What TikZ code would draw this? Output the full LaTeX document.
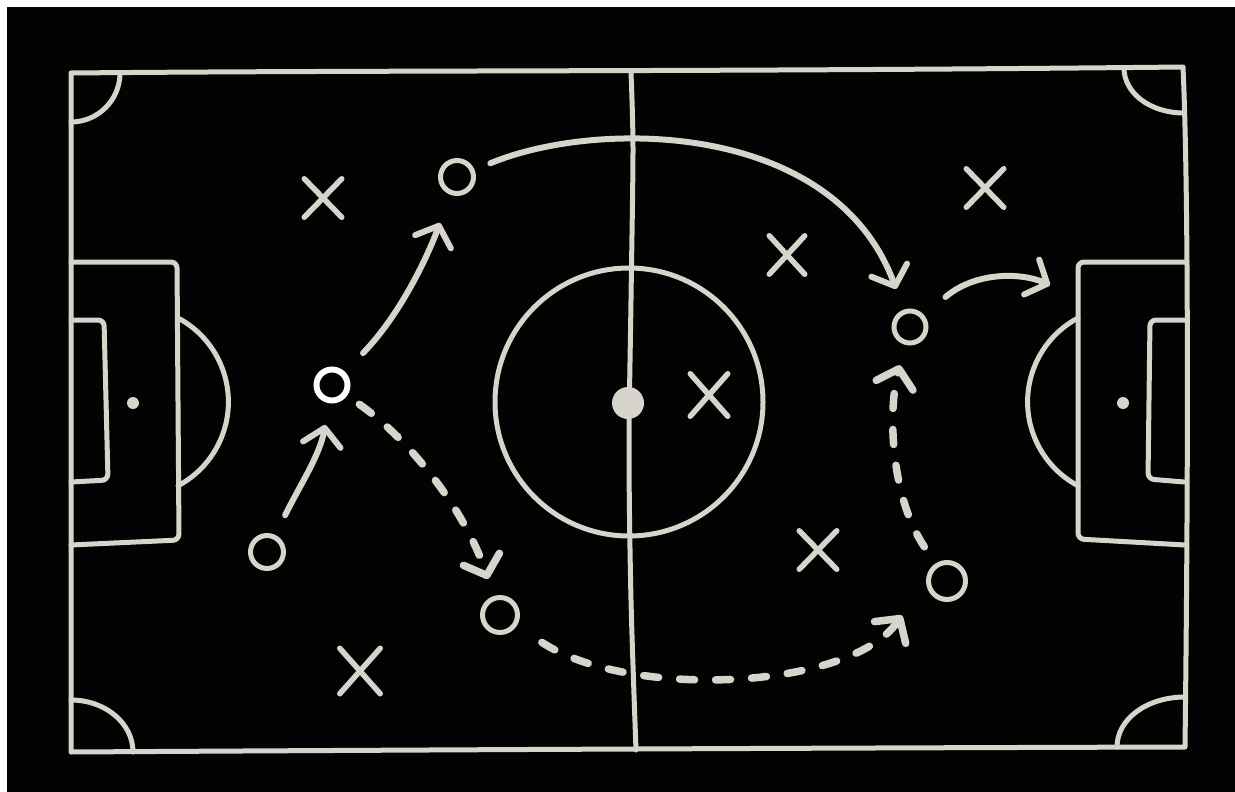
\documentclass[tikz,border=0pt]{standalone}
\usetikzlibrary{arrows.meta,shapes.misc}
\definecolor{chalk}{RGB}{214,212,203}
\definecolor{board}{RGB}{3,3,3}
\begin{document}
\begin{tikzpicture}[x=1pt,y=-1pt,
  fieldline/.style={draw=chalk,line width=5pt,line cap=round,line join=round},
  player/.style={circle,draw=chalk,line width=5pt,inner sep=0pt,minimum size=33pt},
  opponent/.style={cross out,draw=chalk,line width=5.5pt,line cap=round,inner sep=0pt,minimum width=32pt,minimum height=33pt},
  runarrow/.style={draw=chalk,line width=6pt,line cap=round,-{Straight Barb[length=17pt,width=38pt,round]}},
  passarrow/.style={runarrow,line width=7.5pt,dash pattern=on 15pt off 21pt},
]
\useasboundingbox (0,0) rectangle (1235,792);
\fill[white] (0,0) rectangle (1235,792);
\fill[board] (7,7) rectangle (1236,793);

% outline
\draw[fieldline] (71,73) .. controls (400,70) and (700,72) .. (1183,67)
  .. controls (1189,200) and (1188,500) .. (1185,747)
  .. controls (800,748) and (400,750) .. (71,752) -- cycle;
% corners
\draw[fieldline] (120,73) .. controls (120,100) and (98,122) .. (71,122);
\draw[fieldline] (1124,68) .. controls (1124,93) and (1150,113) .. (1184,113);
\draw[fieldline] (71,700) .. controls (105,700) and (133,723) .. (133,752);
\draw[fieldline] (1117,747) .. controls (1117,719) and (1147,697) .. (1185,697);
% halfway line
\draw[fieldline] plot[smooth] coordinates {(631,73) (633,150) (631,300) (629,450) (631,600) (636,750)};
\draw[fieldline] (629,402) circle[radius=134];
\fill[chalk] (628,403) circle[radius=16];
% left box
\draw[fieldline,rounded corners=6pt] (71,262) -- (177,262) -- (179,540) -- (71,545);
\draw[fieldline,rounded corners=6pt] (71,320) -- (104,320) -- (108,480) -- (71,482);
\fill[chalk] (133,403) circle[radius=6];
\draw[fieldline] (178,318) arc[start angle=-62,end angle=62,radius=95];
% right box
\draw[fieldline,rounded corners=6pt] (1187,262) -- (1078,262) -- (1078,539) -- (1185,545);
\draw[fieldline,rounded corners=6pt] (1186,320) -- (1150,320) -- (1148,479) -- (1184,482);
\fill[chalk] (1123,403) circle[radius=6];
\draw[fieldline] (1078,318) arc[start angle=242,end angle=118,radius=95];

% players
\node[player] (p1) at (457,177) {};
\node[player,draw=white,line width=6pt,minimum size=31pt] (p2) at (332,385) {};
\node[player] (p3) at (267,552) {};
\node[player,minimum size=35pt] (p4) at (500,615) {};
\node[player,minimum size=32pt] (p5) at (910,327) {};
\node[player,minimum size=37pt] (p6) at (947,581) {};

% opponents
\node[opponent] (x1) at (323,198) {};
\node[opponent] (x2) at (985,188) {};
\node[opponent,minimum width=30pt] (x3) at (787,255) {};
\node[opponent,minimum height=37pt] (x4) at (709,395) {};
\node[opponent] (x5) at (818,550) {};
\node[opponent,minimum width=35pt,minimum height=40pt] (x6) at (360,671) {};

% runs
\draw[runarrow,shorten <=22pt,shorten >=22pt] (p3) .. controls (300,485) and (320,455) .. (p2);
\draw[runarrow,shorten <=26pt,shorten >=30pt] (p2) .. controls (400,315) and (427,258) .. (p1);
\draw[runarrow,shorten <=17pt,shorten >=22pt] (p1) .. controls (600,118) and (835,122) .. (p5);
\coordinate (goalR) at (1050,285);
\draw[runarrow,shorten <=28pt] (p5) .. controls (975,272) and (1020,272) .. (goalR);
% passes
\draw[passarrow,shorten <=15pt,shorten >=18pt] (p2) .. controls (410,440) and (465,510) .. (p4);
\draw[passarrow,shorten <=30pt,shorten >=42pt] (p4) .. controls (630,700) and (850,690) .. (p6.west);
\draw[passarrow,shorten <=20pt,shorten >=21pt] (p6) .. controls (890,495) and (888,410) .. (p5);
\end{tikzpicture}
\end{document}
